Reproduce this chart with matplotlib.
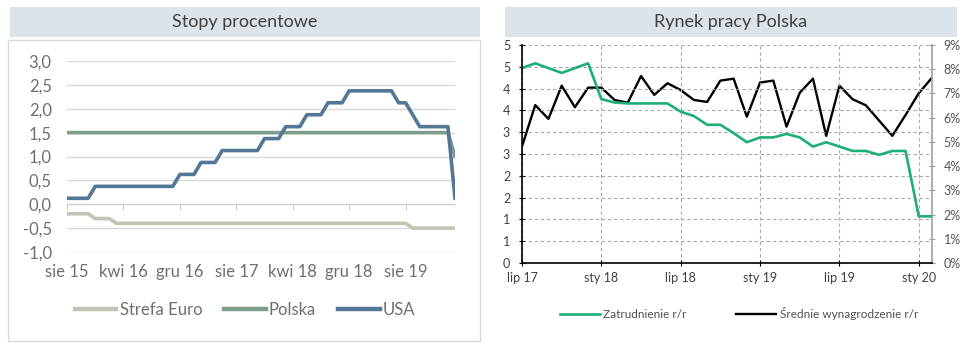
import matplotlib
matplotlib.use('Agg')
import matplotlib.pyplot as plt
from matplotlib.patches import Rectangle
from matplotlib.lines import Line2D
import matplotlib.transforms as mtransforms

plt.rcParams['font.family'] = ['Lato', 'DejaVu Sans']

# --- Stopy procentowe: monthly, sie 15 .. mar 20
rate_tick_pos = [0, 8, 16, 24, 32, 40, 48]
rate_tick_labels = ['sie 15', 'kwi 16', 'gru 16', 'sie 17', 'kwi 18', 'gru 18', 'sie 19']
rate_y_ticks = [-1.0, -0.5, 0.0, 0.5, 1.0, 1.5, 2.0, 2.5, 3.0]
rate_y_labels = ['-1,0', '-0,5', '0,0', '0,5', '1,0', '1,5', '2,0', '2,5', '3,0']

euro = [-0.2, -0.2, -0.2, -0.2, -0.3, -0.3, -0.3, -0.4, -0.4, -0.4,
        -0.4, -0.4, -0.4, -0.4, -0.4, -0.4, -0.4, -0.4, -0.4, -0.4,
        -0.4, -0.4, -0.4, -0.4, -0.4, -0.4, -0.4, -0.4, -0.4, -0.4,
        -0.4, -0.4, -0.4, -0.4, -0.4, -0.4, -0.4, -0.4, -0.4, -0.4,
        -0.4, -0.4, -0.4, -0.4, -0.4, -0.4, -0.4, -0.4, -0.4, -0.5,
        -0.5, -0.5, -0.5, -0.5, -0.5, -0.5]
polska = [1.5, 1.5, 1.5, 1.5, 1.5, 1.5, 1.5, 1.5, 1.5, 1.5,
          1.5, 1.5, 1.5, 1.5, 1.5, 1.5, 1.5, 1.5, 1.5, 1.5,
          1.5, 1.5, 1.5, 1.5, 1.5, 1.5, 1.5, 1.5, 1.5, 1.5,
          1.5, 1.5, 1.5, 1.5, 1.5, 1.5, 1.5, 1.5, 1.5, 1.5,
          1.5, 1.5, 1.5, 1.5, 1.5, 1.5, 1.5, 1.5, 1.5, 1.5,
          1.5, 1.5, 1.5, 1.5, 1.5, 1.0]
usa = [0.125, 0.125, 0.125, 0.125, 0.375, 0.375, 0.375, 0.375, 0.375, 0.375,
       0.375, 0.375, 0.375, 0.375, 0.375, 0.375, 0.625, 0.625, 0.625, 0.875,
       0.875, 0.875, 1.125, 1.125, 1.125, 1.125, 1.125, 1.125, 1.375, 1.375,
       1.375, 1.625, 1.625, 1.625, 1.875, 1.875, 1.875, 2.125, 2.125, 2.125,
       2.375, 2.375, 2.375, 2.375, 2.375, 2.375, 2.375, 2.125, 2.125, 1.875,
       1.625, 1.625, 1.625, 1.625, 1.625, 0.125]

# --- Rynek pracy Polska: monthly, lip 17 .. lut 20
labour_tick_pos = [0, 6, 12, 18, 24, 30]
labour_tick_labels = ['lip 17', 'sty 18', 'lip 18', 'sty 19', 'lip 19', 'sty 20']
left_y_ticks = [0, 0.5, 1, 1.5, 2, 2.5, 3, 3.5, 4, 4.5, 5]
left_y_labels = ['0', '1', '1', '2', '2', '3', '3', '4', '4', '5', '5']
right_y_ticks = [0, 1, 2, 3, 4, 5, 6, 7, 8, 9]
right_y_labels = ['0%', '1%', '2%', '3%', '4%', '5%', '6%', '7%', '8%', '9%']

zatrudnienie = [4.47, 4.58, 4.47, 4.36, 4.47, 4.58, 3.76, 3.68, 3.66, 3.66,
                3.66, 3.66, 3.47, 3.37, 3.17, 3.17, 2.98, 2.77, 2.88, 2.88,
                2.96, 2.88, 2.67, 2.77, 2.67, 2.57, 2.57, 2.48, 2.57, 2.57,
                1.07, 1.07]
wynagrodzenie = [4.81, 6.52, 5.95, 7.32, 6.43, 7.24, 7.24, 6.73, 6.62, 7.72,
                 6.94, 7.42, 7.14, 6.73, 6.65, 7.53, 7.61, 6.04, 7.45, 7.53,
                 5.63, 7.03, 7.61, 5.25, 7.32, 6.76, 6.51, 5.88, 5.25, 6.11,
                 7.01, 7.65]

W, H = 975, 343
fig = plt.figure(figsize=(W / 100, H / 100), dpi=100)

def box(x0, y0, x1, y1):
    return [x0 / W, 1 - y1 / H, (x1 - x0) / W, (y1 - y0) / H]

# header bars and frame
bar_col = '#dce4ea'
for (x0, x1, title) in [(10, 480, 'Stopy procentowe'), (505, 957, 'Rynek pracy Polska')]:
    fig.patches.append(Rectangle((x0 / W, 1 - 37 / H), (x1 - x0) / W, 30 / H,
                                 transform=fig.transFigure, facecolor=bar_col, edgecolor='none'))
    fig.text((x0 + x1) / 2 / W, 1 - 21.5 / H, title, ha='center', va='center',
             fontsize=13, color='#404040')
fig.patches.append(Rectangle((8 / W, 1 - 341 / H), 472 / W, 301 / H, transform=fig.transFigure,
                             facecolor='none', edgecolor='#dadada', lw=1))

# ---------------- left chart
ax = fig.add_axes(box(67, 61, 455, 252))
x_rates = list(range(len(usa)))
ax.plot(x_rates, euro, color='#c3c2b5', lw=2.6, label='Strefa Euro')
ax.plot(x_rates, polska, color='#7d9e8b', lw=2.6, label='Polska')
ax.plot(x_rates, usa, color='#537794', lw=2.6, label='USA')
ax.set_xlim(0, len(usa) - 1)
ax.set_ylim(-1, 3)
ax.set_yticks(rate_y_ticks)
ax.set_yticklabels(rate_y_labels)
ax.tick_params(axis='y', length=0, pad=11, labelsize=12, labelcolor='#6f6f6f')
ax.yaxis.grid(True, color='#d9d9d9', lw=1)
ax.set_axisbelow(True)
for s in ['top', 'right', 'left']:
    ax.spines[s].set_visible(False)
ax.spines['bottom'].set_position(('data', 0))
ax.spines['bottom'].set_color('#d0d0d0')
ax.set_xticks(rate_tick_pos)
ax.set_xticklabels([])
ax.tick_params(axis='x', direction='out', length=4, color='#d0d0d0')
trans = mtransforms.blended_transform_factory(ax.transData, ax.transAxes)
for p, lab in zip(rate_tick_pos, rate_tick_labels):
    ax.text(p, -0.105, lab, transform=trans, ha='center', va='center',
            fontsize=12, color='#6f6f6f')
ax.patch.set_alpha(0)

leg = fig.legend(handles=ax.get_lines(), loc='center', bbox_to_anchor=(245 / W, 1 - 310 / H),
                 ncol=3, frameon=False, fontsize=12, handlelength=2.5, handletextpad=0.2,
                 columnspacing=1.3, labelcolor='#6f6f6f')
for l in leg.get_lines():
    l.set_linewidth(3.2)

# ---------------- right chart
ax2 = fig.add_axes(box(522, 45, 932, 263))
x_lab = list(range(len(zatrudnienie)))
g, = ax2.plot(x_lab, zatrudnienie, color='#1fae77', lw=1.9, label='Zatrudnienie r/r')
ax2.set_xlim(0, len(zatrudnienie) - 1)
ax2.set_ylim(0, 5)
ax2.set_yticks(left_y_ticks)
ax2.set_yticklabels(left_y_labels)
ax2.set_xticks(labour_tick_pos)
ax2.set_xticklabels(labour_tick_labels)
ax2.grid(True, color='#a9a9a9', lw=0.8, linestyle=(0, (3, 2.5)))
ax2.tick_params(axis='y', direction='inout', length=5, pad=6, labelsize=9, labelcolor='#404040')
ax2.tick_params(axis='x', direction='inout', length=5, pad=4, labelsize=9, labelcolor='#404040')
for s in ['top', 'right']:
    ax2.spines[s].set_visible(False)
ax2.spines['left'].set_color('black')
ax2.spines['bottom'].set_color('black')
ax2.spines['left'].set_linewidth(1.2)
ax2.spines['bottom'].set_linewidth(1.2)
ax2.set_axisbelow(True)

ax3 = ax2.twinx()
b, = ax3.plot(x_lab, wynagrodzenie, color='black', lw=1.7, label='Średnie wynagrodzenie r/r')
ax3.set_ylim(0, 9)
ax3.set_yticks(right_y_ticks)
ax3.set_yticklabels(right_y_labels)
ax3.tick_params(axis='y', direction='inout', length=5, pad=6, labelsize=9,
                labelcolor='#555555', color='#a0a0a0')
for s in ['top', 'left', 'bottom']:
    ax3.spines[s].set_visible(False)
ax3.spines['right'].set_color('#a0a0a0')
ax3.spines['right'].set_linewidth(1.2)
ax2.set_zorder(ax3.get_zorder() + 1)
ax2.patch.set_visible(False)

fig.legend(handles=[g, b], loc='center', bbox_to_anchor=(739 / W, 1 - 314 / H), ncol=2,
           frameon=False, fontsize=8.5, handlelength=3.4, handletextpad=0.3, columnspacing=4.2,
           labelcolor='#505050')

fig.savefig('out.png', dpi=100)
